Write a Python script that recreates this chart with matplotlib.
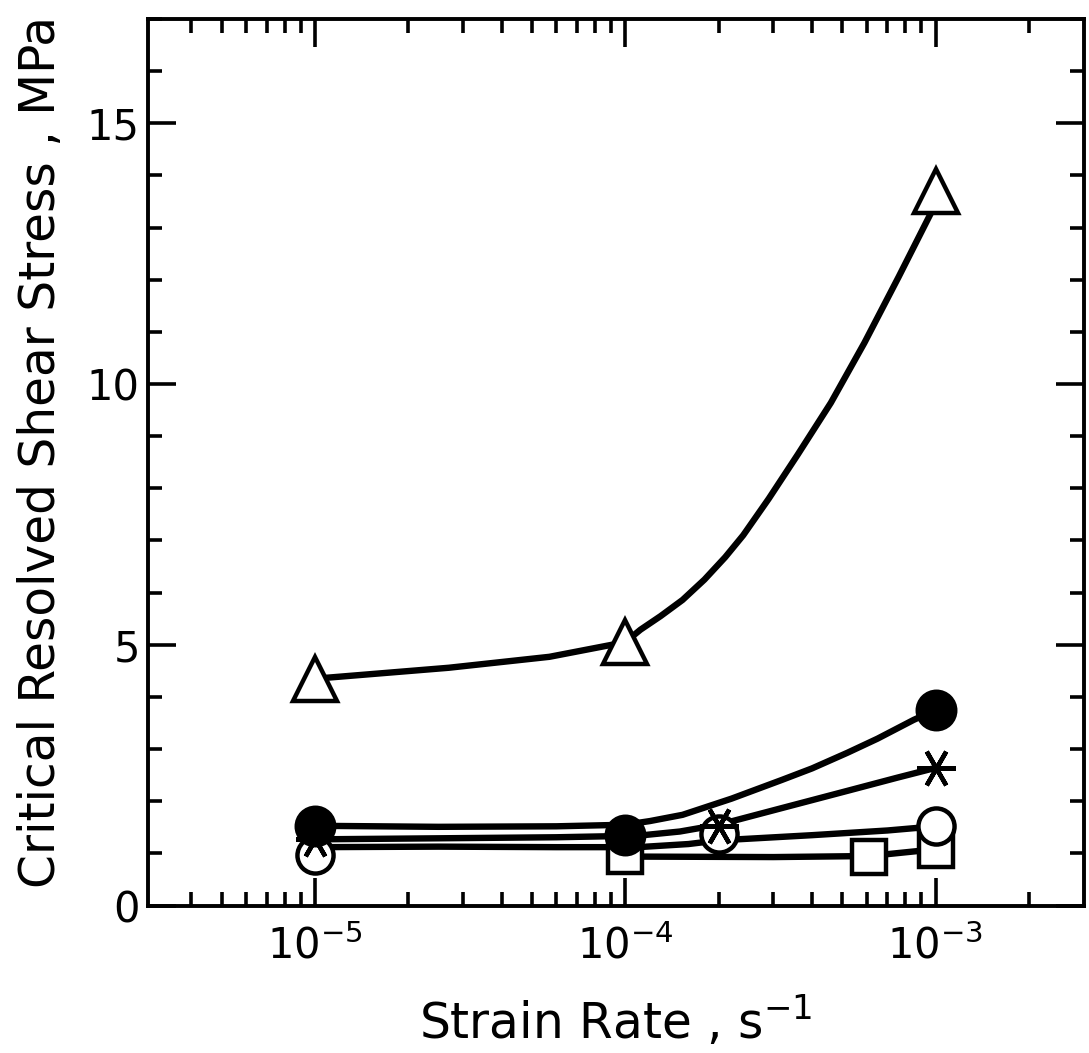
import numpy as np
import matplotlib
matplotlib.use('Agg')
import matplotlib.pyplot as plt
from matplotlib.ticker import FixedLocator, NullFormatter, MultipleLocator

plt.rcParams['font.family'] = ['DejaVu Sans']
plt.rcParams['mathtext.default'] = 'regular'

# ---- data ----
# markers
tri_x = [1e-5, 1e-4, 1e-3]
tri_y = [4.35, 5.05, 13.7]
fil_x = [1e-5, 1e-4, 1e-3]
fil_y = [1.53, 1.36, 3.75]
ast_x = [1e-5, 2e-4, 1e-3]
ast_y = [1.27, 1.52, 2.64]
opn_x = [1e-5, 2e-4, 1e-3]
opn_y = [0.97, 1.38, 1.53]
sqr_x = [1e-4, 6.1e-4, 1e-3]
sqr_y = [0.95, 0.94, 1.07]

# hand-drawn curves
tri_cx = [1e-5, 2.7e-5, 5.7e-5, 1e-4, 1.12e-4, 1.3e-4, 1.53e-4, 1.8e-4, 2.1e-4,
          2.4e-4, 2.9e-4, 3.6e-4, 4.6e-4, 5.9e-4, 7.6e-4, 9.9e-4]
tri_cy = [4.35, 4.56, 4.77, 5.05, 5.29, 5.55, 5.86, 6.25, 6.68,
          7.1, 7.8, 8.65, 9.64, 10.79, 12.05, 13.4]
fil_cx = [1e-5, 2.5e-5, 6e-5, 1e-4, 1.2e-4, 1.53e-4, 2.2e-4, 3.2e-4, 4e-4,
          5.2e-4, 6.5e-4, 8.5e-4, 1e-3]
fil_cy = [1.53, 1.51, 1.52, 1.55, 1.62, 1.74, 2.05, 2.41, 2.63,
          2.93, 3.2, 3.56, 3.75]
ast_cx = [1e-5, 2.5e-5, 6e-5, 1.1e-4, 1.5e-4, 2e-4, 3.2e-4, 5.2e-4, 7.5e-4, 1e-3]
ast_cy = [1.27, 1.29, 1.31, 1.34, 1.42, 1.55, 1.87, 2.2, 2.45, 2.64]
opn_cx = [1e-5, 2.5e-5, 6e-5, 1.1e-4, 1.6e-4, 2e-4, 4e-4, 7e-4, 1e-3]
opn_cy = [1.12, 1.13, 1.12, 1.12, 1.18, 1.25, 1.35, 1.44, 1.52]
sqr_cx = [1e-4, 3e-4, 6.1e-4, 1e-3]
sqr_cy = [0.94, 0.93, 0.95, 1.08]

# ---- figure ----
fig = plt.figure(figsize=(10.89, 10.53), dpi=100)
ax = fig.add_axes([0.136, 0.140, 0.859, 0.842])

lw = 4.6
for cx, cy in [(tri_cx, tri_cy), (fil_cx, fil_cy), (ast_cx, ast_cy),
               (opn_cx, opn_cy), (sqr_cx, sqr_cy)]:
    ax.plot(cx, cy, color='black', lw=lw, solid_capstyle='round',
            solid_joinstyle='round', zorder=2)

mew = 3.2
ax.plot(sqr_x, sqr_y, ls='none', marker='s', ms=24, mfc='white', mec='black', mew=mew, zorder=3)
ax.plot(opn_x, opn_y, ls='none', marker='o', ms=26, mfc='white', mec='black', mew=mew, zorder=4)
ax.plot(ast_x, ast_y, ls='none', marker=(6, 2, 30), ms=28, mec='black', mew=mew, zorder=5)
ax.plot(fil_x, fil_y, ls='none', marker='o', ms=27, mfc='black', mec='black', mew=mew, zorder=6)
ax.plot(tri_x, tri_y, ls='none', marker='^', ms=31, mfc='white', mec='black', mew=mew, zorder=7)

ax.set_xscale('log')
ax.set_xlim(2.9e-6, 3.0e-3)
ax.set_ylim(0, 17)

# ticks
ax.xaxis.set_major_locator(FixedLocator([1e-5, 1e-4, 1e-3]))
minors = [m * 10.0**e for e in (-6, -5, -4, -3) for m in range(2, 10)]
minors = [v for v in minors if 3.5e-6 < v < 2.9e-3]
ax.xaxis.set_minor_locator(FixedLocator(minors))
ax.xaxis.set_minor_formatter(NullFormatter())
ax.set_xticklabels([r'$10^{-5}$', r'$10^{-4}$', r'$10^{-3}$'])
ax.yaxis.set_major_locator(MultipleLocator(5))
ax.yaxis.set_minor_locator(MultipleLocator(1))

ax.tick_params(which='both', direction='in', top=True, right=True, width=2.6)
ax.tick_params(which='major', length=20, labelsize=30, pad=14)
ax.tick_params(which='minor', length=10)
ax.tick_params(axis='y', which='major', pad=6)
for s in ax.spines.values():
    s.set_linewidth(2.8)

ax.set_xlabel(r'Strain Rate , s$^{-1}$', fontsize=35, labelpad=20)
ax.set_ylabel('Critical Resolved Shear Stress , MPa', fontsize=35)
ax.yaxis.set_label_coords(-0.089, 0.512)

fig.savefig('out.png', dpi=100)
